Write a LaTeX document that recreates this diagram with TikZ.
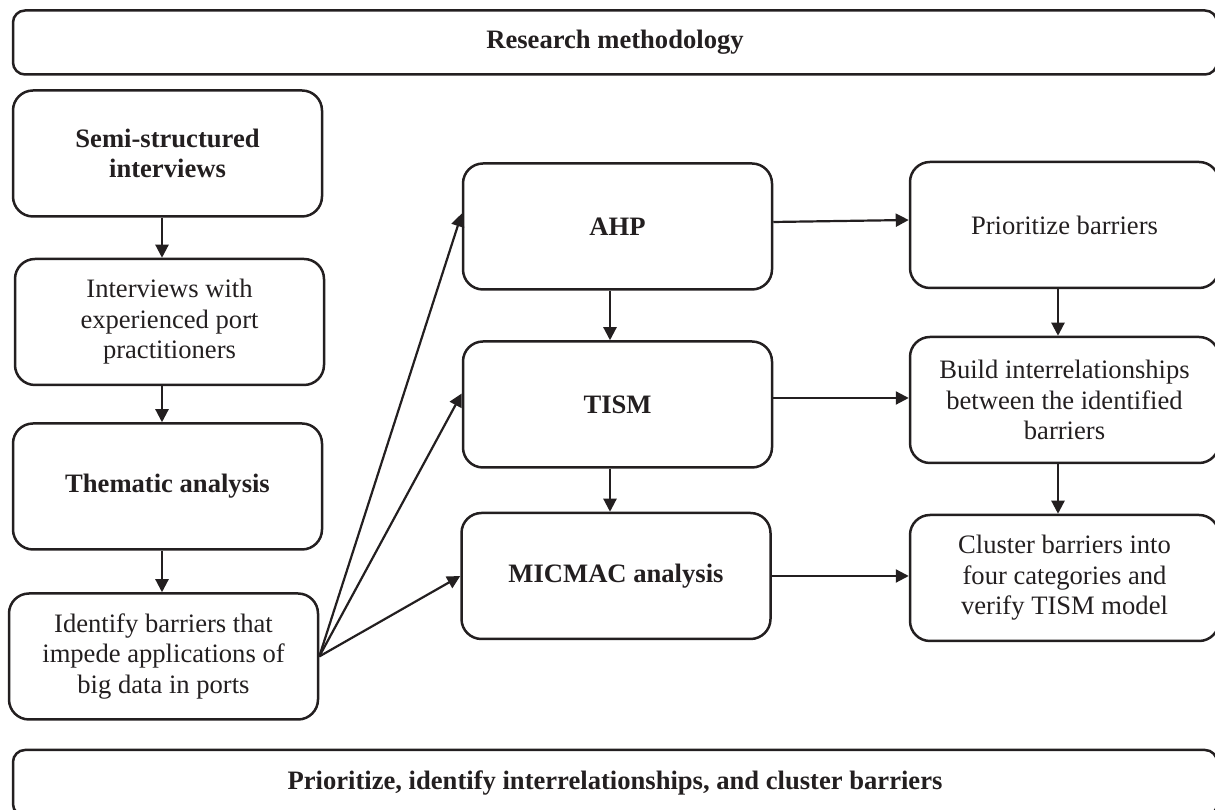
\documentclass[tikz,border=0pt]{standalone}
\usepackage{fontspec}
\setmainfont{Liberation Serif}
\usetikzlibrary{arrows.meta}
\definecolor{ink}{RGB}{35,31,32}

\begin{document}
\begin{tikzpicture}[x=1pt,y=1pt,
		every node/.style={font=\fontsize{26.6}{30.5}\selectfont, text=ink, align=center, inner sep=0pt},
		box/.style={draw=ink, line width=2.5pt, rounded corners=20pt, minimum width=309pt, minimum height=126pt},
		boldbox/.style={box, font=\fontsize{26.6}{30.5}\selectfont\bfseries},
		banner/.style={draw=ink, line width=2.5pt, rounded corners=12pt, minimum width=1204pt, minimum height=64pt, font=\fontsize{26.6}{30.5}\selectfont\bfseries},
		arr/.style={draw=ink, line width=2.2pt, -{Triangle[length=13pt,width=13pt]}}]
		%NOTE! y is counted from the bottom of the page
		\clip (0,0) rectangle (1215,810);
		
		% Top and bottom banners (cut by the page edge)
		\node[banner] (top) at (615,767.5) {Research methodology};
		\node[banner, minimum height=66pt] (bottom) at (615,27) {Prioritize, identify interrelationships, and cluster barriers};
		
		% Left column: data collection
		\node[boldbox] (semi) at (167.5,656.5) {Semi-structured\\interviews};
		\node[box] (interv) at (169.5,488) {Interviews with\\experienced port\\practitioners};
		\node[boldbox] (thematic) at (167.5,323.5) {Thematic analysis};
		\node[box] (identify) at (163.5,153.5) {Identify barriers that\\impede applications of\\big data in ports};
		
		% Middle column: methods
		\node[boldbox] (ahp) at (617.5,583.5) {AHP};
		\node[boldbox] (tism) at (617.5,405.5) {TISM};
		\node[boldbox] (micmac) at (616,234) {MICMAC analysis};
		
		% Right column: outcomes
		\node[box] (prior) at (1064.5,585) {Prioritize barriers};
		\node[box] (build) at (1064.5,410) {Build interrelationships\\between the identified\\barriers};
		\node[box] (cluster) at (1064.5,232) {Cluster barriers into\\four categories and\\verify TISM model};
		
		% Vertical arrows
		\draw[arr] ([xshift=-5.5pt]semi.south) -- ([xshift=-7.5pt]interv.north);
		\draw[arr] ([xshift=-7.5pt]interv.south) -- ([xshift=-5.5pt]thematic.north);
		\draw[arr] ([xshift=-5.5pt]thematic.south) -- ([xshift=-1.5pt]identify.north);
		\draw[arr] ([xshift=-7.5pt]ahp.south) -- ([xshift=-7.5pt]tism.north);
		\draw[arr] ([xshift=-7.5pt]tism.south) -- ([xshift=-6pt]micmac.north);
		\draw[arr] ([xshift=-6.5pt]prior.south) -- ([xshift=-6.5pt]build.north);
		\draw[arr] ([xshift=-6.5pt]build.south) -- ([xshift=-6.5pt]cluster.north);
		
		% Fan out of the identified barriers
		\draw[arr] (identify.east) -- ([yshift=13pt]ahp.west);
		\draw[arr] (identify.east) -- ([yshift=11pt]tism.west);
		\draw[arr] (identify.east) -- (micmac.west);
		
		% Horizontal arrows to the outcomes
		\draw[arr] ([yshift=4.5pt]ahp.east) -- ([yshift=5pt]prior.west);
		\draw[arr] ([yshift=6.5pt]tism.east) -- ([yshift=2pt]build.west);
		\draw[arr] (micmac.east) -- ([yshift=2pt]cluster.west);
	\end{tikzpicture}
\end{document}
